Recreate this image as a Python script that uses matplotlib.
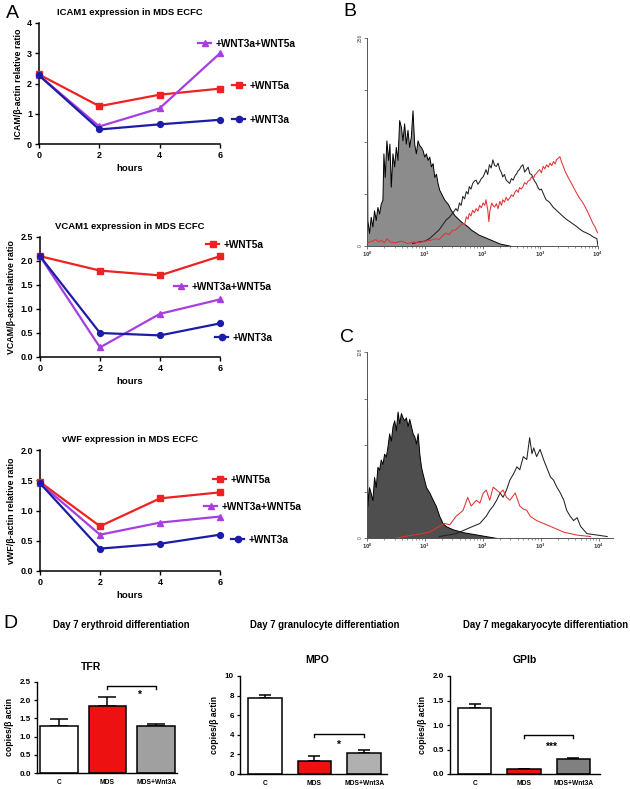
import numpy as np
import matplotlib
matplotlib.use('Agg')
import matplotlib.pyplot as plt
from matplotlib.lines import Line2D
from matplotlib.ticker import FixedLocator, LogLocator, NullFormatter

plt.rcParams['font.family'] = ['Liberation Sans', 'DejaVu Sans']
plt.rcParams['font.weight'] = 'bold'
plt.rcParams['axes.labelweight'] = 'bold'
plt.rcParams['axes.titleweight'] = 'bold'

W, H = 630, 789

# ---------------- Panel A data ----------------
hours = [0, 2, 4, 6]
icam_wnt5a = [2.30, 1.25, 1.63, 1.83]
icam_wnt3a = [2.27, 0.48, 0.65, 0.80]
icam_both = [2.27, 0.58, 1.18, 3.00]
vcam_wnt5a = [2.10, 1.80, 1.70, 2.10]
vcam_wnt3a = [2.10, 0.50, 0.45, 0.70]
vcam_both = [2.10, 0.20, 0.90, 1.20]
vwf_wnt5a = [1.47, 0.74, 1.20, 1.30]
vwf_wnt3a = [1.45, 0.37, 0.45, 0.60]
vwf_both = [1.45, 0.60, 0.80, 0.90]
series_labels = ['+WNT5a', '+WNT3a', '+WNT3a+WNT5a']

# ---------------- Panel B data (log10 fluorescence, counts) ----------------
b_iso_log = [0.0, 0.0, 0.006, 0.035, 0.064, 0.093, 0.122, 0.151, 0.180, 0.209, 0.238, 0.267,
             0.284, 0.307, 0.336, 0.365, 0.388, 0.412, 0.441, 0.470, 0.499, 0.528, 0.557,
             0.586, 0.614, 0.643, 0.672, 0.701, 0.730, 0.759, 0.788, 0.817, 0.846, 0.875,
             0.904, 0.933, 0.962, 0.991, 1.020, 1.049, 1.078, 1.107, 1.136, 1.165, 1.194,
             1.223, 1.252, 1.281, 1.339, 1.397, 1.455, 1.513, 1.571, 1.629, 1.687, 1.745,
             1.803, 1.87, 1.93, 2.0, 2.1, 2.2, 2.3, 2.4, 2.5]
b_iso_cnt = [0, 143, 32, 16, 36, 24, 44, 32, 48, 40, 52, 57,
             114, 85, 130, 106, 126, 73, 114, 98, 122, 106, 155,
             147, 130, 151, 126, 143, 122, 135, 167, 126, 114, 130,
             124, 122, 118, 110, 114, 106, 110, 98, 102, 85, 89,
             77, 69, 65, 57, 52, 44, 38, 34, 30, 27, 24,
             20, 17, 14, 12, 9, 6, 3, 1.5, 0]
b_ctrl_log = [0.79, 0.9, 1.0, 1.08, 1.16, 1.25, 1.31, 1.37, 1.42, 1.48, 1.54, 1.57, 1.60, 1.63,
              1.66, 1.69, 1.72, 1.75, 1.77, 1.80, 1.83, 1.86, 1.89, 1.92, 1.95, 1.98, 2.01,
              2.04, 2.06, 2.09, 2.12, 2.15, 2.18, 2.21, 2.24, 2.27, 2.30, 2.33, 2.35, 2.38,
              2.41, 2.44, 2.47, 2.50, 2.53, 2.56, 2.59, 2.62, 2.64, 2.67, 2.70, 2.73, 2.76,
              2.79, 2.82, 2.85, 2.87, 2.90, 2.93, 2.96, 2.99, 3.02, 3.05, 3.08, 3.10, 3.14,
              3.17, 3.20, 3.22, 3.25, 3.28, 3.31, 3.34, 3.37, 3.40, 3.45, 3.51, 3.57, 3.63,
              3.68, 3.74, 3.80, 3.86, 3.92, 3.98, 4.0]
b_ctrl_cnt = [3, 5, 6, 9, 14, 20, 26, 32, 35, 40, 46, 43, 53, 50,
              61, 58, 67, 64, 73, 70, 77, 80, 81, 76, 79, 83, 85,
              90, 94, 88, 100, 96, 106, 99, 98, 102, 94, 90, 85, 88,
              81, 79, 77, 83, 81, 86, 89, 93, 94, 98, 100, 91, 94,
              97, 89, 88, 85, 80, 77, 72, 69, 70, 65, 60, 57, 55,
              53, 50, 48, 46, 44, 42, 40, 38, 36, 33, 30, 27, 24,
              21, 18, 16, 14, 11, 9, 0]
b_treat_log = [0.0, 0.1, 0.15, 0.2, 0.25, 0.3, 0.35, 0.4, 0.5, 0.6, 0.7, 0.8, 0.9, 1.0, 1.1,
               1.19, 1.25, 1.3, 1.37, 1.42, 1.48, 1.54, 1.60, 1.66, 1.69, 1.72, 1.75, 1.77,
               1.80, 1.83, 1.86, 1.89, 1.92, 1.95, 1.98, 2.01, 2.04, 2.06, 2.09, 2.11, 2.13,
               2.16, 2.18, 2.21, 2.24, 2.27, 2.30, 2.33, 2.35, 2.38, 2.41, 2.44, 2.47, 2.50,
               2.53, 2.56, 2.59, 2.62, 2.64, 2.67, 2.70, 2.73, 2.76, 2.79, 2.82, 2.85, 2.88,
               2.91, 2.93, 2.96, 2.99, 3.02, 3.05, 3.08, 3.11, 3.14, 3.17, 3.20, 3.23, 3.26,
               3.28, 3.31, 3.34, 3.37, 3.40, 3.43, 3.45, 3.48, 3.51, 3.57, 3.63, 3.68, 3.74,
               3.80, 3.86, 3.91, 3.95, 3.98, 4.0]
b_treat_cnt = [4, 6, 8, 5, 7, 4, 9, 5, 4, 6, 3, 5, 4, 6, 7,
               9, 8, 12, 16, 14, 19, 20, 24, 28, 26, 36, 33, 40,
               37, 44, 41, 46, 43, 50, 47, 53, 50, 57, 45, 30, 44,
               53, 50, 48, 52, 46, 55, 50, 57, 54, 60, 56, 59, 63,
               61, 66, 69, 66, 72, 70, 73, 78, 76, 80, 81, 85, 83,
               88, 89, 92, 94, 90, 98, 95, 100, 97, 102, 99, 104, 101,
               106, 108, 110, 103, 98, 92, 89, 85, 81, 73, 65, 59, 53,
               45, 36, 28, 23, 18, 16]

# ---------------- Panel C data ----------------
c_iso_log = [0.0, 0.0, 0.006, 0.035, 0.064, 0.093, 0.122, 0.151, 0.180, 0.209, 0.238, 0.267,
             0.296, 0.325, 0.354, 0.383, 0.412, 0.441, 0.470, 0.499, 0.528, 0.557, 0.586,
             0.614, 0.643, 0.672, 0.701, 0.730, 0.759, 0.788, 0.817, 0.846, 0.875, 0.904,
             0.933, 0.962, 1.02, 1.08, 1.14, 1.19, 1.25, 1.31, 1.37, 1.48, 1.66, 1.95, 2.24]
c_iso_cnt = [0, 100, 22, 35, 31, 26, 42, 35, 49, 47, 54, 51,
             58, 56, 63, 72, 67, 77, 81, 74, 87, 79, 86,
             83, 81, 83, 77, 82, 77, 72, 70, 65, 72, 58,
             49, 44, 35, 31, 26, 22, 15, 10, 8, 6, 4, 2, 0]
c_ctrl_log = [1.25, 1.54, 1.77, 1.95, 2.06, 2.12, 2.18, 2.24, 2.30, 2.35, 2.41, 2.47, 2.53,
              2.59, 2.64, 2.70, 2.76, 2.81, 2.85, 2.88, 2.93, 2.99, 3.05, 3.10, 3.17, 3.22,
              3.28, 3.34, 3.40, 3.45, 3.51, 3.57, 3.63, 3.69, 3.80, 3.98, 4.15]
c_ctrl_cnt = [1, 3, 7, 10, 15, 19, 22, 26, 31, 28, 33, 40, 44,
              49, 47, 56, 54, 69, 58, 62, 56, 61, 54, 49, 42, 40,
              35, 31, 26, 19, 15, 12, 14, 8, 3, 2, 1]
c_treat_log = [0.5, 0.79, 1.08, 1.25, 1.34, 1.43, 1.54, 1.66, 1.74, 1.80, 1.89, 1.95, 2.01,
               2.06, 2.12, 2.18, 2.24, 2.30, 2.35, 2.41, 2.47, 2.56, 2.64, 2.70, 2.76, 2.82,
               2.93, 3.05, 3.17, 3.40, 3.63, 3.86]
c_treat_cnt = [0, 2, 4, 8, 10, 9, 15, 19, 28, 22, 26, 24, 31,
               33, 26, 35, 33, 31, 33, 28, 26, 31, 22, 20, 19, 15,
               12, 10, 8, 4, 2, 1]

# ---------------- Panel D data ----------------
groups = ['C', 'MDS', 'MDS+Wnt3A']
tfr_mean = [1.30, 1.83, 1.28]
tfr_err = [0.17, 0.25, 0.07]
mpo_mean = [7.80, 1.30, 2.15]
mpo_err = [0.25, 0.55, 0.30]
gp_mean = [1.35, 0.10, 0.30]
gp_err = [0.08, 0.01, 0.03]
sig_labels = ['*', '*', '***']


def rect(x0, x1, ytop, ybot):
    return [x0 / W, 1 - ybot / H, (x1 - x0) / W, (ybot - ytop) / H]


def fpos(x, y):
    return (x / W, 1 - y / H)


fig = plt.figure(figsize=(W / 100, H / 100), dpi=100)
fig.patch.set_facecolor('white')

RED = '#ee2222'
BLUE = '#1c1ca8'
PURP = '#a63ee0'


def line_panel(rectv, w5, w3, wb, ylim, yticks, yfmt, title, ylabel, keys):
    ax = fig.add_axes(rectv)
    ax.plot(hours, w5, color=RED, marker='s', ms=4.5, lw=1.6, clip_on=False, zorder=3)
    ax.plot(hours, wb, color=PURP, marker='^', ms=4.5, lw=1.6, clip_on=False, zorder=3)
    ax.plot(hours, w3, color=BLUE, marker='o', ms=4.2, lw=1.6, clip_on=False, zorder=4)
    ax.set_xlim(0, 6)
    ax.set_ylim(*ylim)
    ax.set_xticks(hours)
    ax.set_yticks(yticks)
    ax.set_yticklabels([yfmt.format(v) for v in yticks])
    for s in ['top', 'right']:
        ax.spines[s].set_visible(False)
    for s in ['left', 'bottom']:
        ax.spines[s].set_linewidth(1.1)
    ax.tick_params(direction='out', length=3, width=1.0, labelsize=6.5, pad=2)
    ax.set_title(title, fontsize=6.8, pad=6)
    ax.set_ylabel(ylabel, fontsize=6.4, labelpad=3)
    ax.set_xlabel('hours', fontsize=6.8, labelpad=3)
    styles = {'+WNT5a': (RED, 's'), '+WNT3a': (BLUE, 'o'), '+WNT3a+WNT5a': (PURP, '^')}
    for lab, (xp, yp) in keys.items():
        c, m = styles[lab]
        h = Line2D([], [], color=c, marker=m, lw=1.6, ms=4.5)
        fig.legend(handles=[h], labels=[lab], loc='center left', bbox_to_anchor=fpos(xp, yp),
                   frameon=False, borderpad=0, borderaxespad=0, handlelength=1.3,
                   handletextpad=0.4, prop={'weight': 'bold', 'size': 7.3})
    return ax


line_panel(rect(39, 220, 23, 144), icam_wnt5a, icam_wnt3a, icam_both, (0, 4), [0, 1, 2, 3, 4], '{:d}',
           'ICAM1 expression in MDS ECFC', 'ICAM/β-actin relative ratio',
           {'+WNT3a+WNT5a': (198, 44), '+WNT5a': (232, 86), '+WNT3a': (232, 120)})
line_panel(rect(40, 220, 237, 357), vcam_wnt5a, vcam_wnt3a, vcam_both, (0, 2.5),
           [0, 0.5, 1.0, 1.5, 2.0, 2.5], '{:.1f}',
           'VCAM1 expression in MDS ECFC', 'VCAM/β-actin relative ratio',
           {'+WNT5a': (206, 245), '+WNT3a+WNT5a': (174, 287), '+WNT3a': (215, 338)})
line_panel(rect(40, 220, 450, 571), vwf_wnt5a, vwf_wnt3a, vwf_both, (0, 2.0),
           [0, 0.5, 1.0, 1.5, 2.0], '{:.1f}',
           'vWF expression in MDS ECFC', 'vWF/β-actin relative ratio',
           {'+WNT5a': (213, 480), '+WNT3a+WNT5a': (204, 507), '+WNT3a': (231, 540)})


def hist_panel(rectv, xmax_log, ymax, iso, ctrl, treat, iso_color):
    ax = fig.add_axes(rectv)
    ax.set_xscale('log')
    ilog, icnt = iso
    ax.fill_between(10 ** np.array(ilog), 0, icnt, facecolor=iso_color, edgecolor='black',
                    lw=0.7, zorder=2)
    clog, ccnt = ctrl
    ax.plot(10 ** np.array(clog), ccnt, color='#222222', lw=0.75, zorder=3)
    tlog, tcnt = treat
    ax.plot(10 ** np.array(tlog), tcnt, color='#e03434', lw=0.75, zorder=4)
    ax.set_xlim(1, 10 ** xmax_log)
    ax.set_ylim(0, ymax)
    for s in ['top', 'right']:
        ax.spines[s].set_visible(False)
    for s in ['left', 'bottom']:
        ax.spines[s].set_linewidth(0.7)
        ax.spines[s].set_color('#555555')
    ax.xaxis.set_major_locator(FixedLocator([1, 10, 100, 1000, 10000]))
    ax.xaxis.set_minor_locator(LogLocator(base=10, subs=np.arange(2, 10)))
    ax.xaxis.set_minor_formatter(NullFormatter())
    ax.set_xticklabels(['$10^0$', '$10^1$', '$10^2$', '$10^3$', '$10^4$'])
    yt = np.linspace(0, ymax, 5)
    ax.set_yticks(yt)
    ax.set_yticklabels(['0', '', '', '', str(ymax)], rotation=90, va='center')
    ax.tick_params(axis='both', which='major', length=2, width=0.5, labelsize=3.5, pad=1,
                   colors='#444444')
    ax.tick_params(axis='x', which='minor', length=1.2, width=0.4, colors='#444444')
    for t in ax.get_xticklabels() + ax.get_yticklabels():
        t.set_fontweight('normal')
    return ax


hist_panel(rect(367, 598, 38, 246), 4.0, 256,
           (b_iso_log, b_iso_cnt), (b_ctrl_log, b_ctrl_cnt), (b_treat_log, b_treat_cnt), '#8c8c8c')
hist_panel(rect(367, 613, 352, 538), 4.25, 128,
           (c_iso_log, c_iso_cnt), (c_ctrl_log, c_ctrl_cnt), (c_treat_log, c_treat_cnt), '#4e4e4e')


def bar_panel(rectv, xlim, means, errs, ylim, yticks, yfmt, gray, width, cap, bracket, star_xy, star):
    ax = fig.add_axes(rectv)
    x = np.arange(len(groups))
    colors = ['white', '#ee1111', gray]
    ax.bar(x, means, width=width, color=colors, edgecolor='black', lw=1.1, zorder=2)
    ax.errorbar(x, means, yerr=[np.zeros(len(errs)), errs], fmt='none', ecolor='black',
                elinewidth=1.1, capsize=cap, capthick=1.1, zorder=1)
    ax.set_xlim(*xlim)
    ax.set_ylim(*ylim)
    ax.set_xticks(x)
    ax.set_xticklabels(groups)
    ax.set_yticks(yticks)
    ax.set_yticklabels([yfmt.format(v) for v in yticks])
    for s in ['top', 'right']:
        ax.spines[s].set_visible(False)
    for s in ['left', 'bottom']:
        ax.spines[s].set_linewidth(1.0)
    ax.tick_params(axis='y', direction='out', length=2.5, width=0.9, labelsize=5.8, pad=2)
    ax.tick_params(axis='x', length=0, labelsize=4.8, pad=4)
    ax.set_ylabel('copies/β actin', fontsize=6.2, labelpad=4)
    top, tip = bracket
    ax.plot([1, 1, 2, 2], [tip, top, top, tip], color='black', lw=1.0, clip_on=False)
    ax.text(star_xy[0], star_xy[1], star, ha='center', va='center', fontsize=7.5)
    return ax


bar_panel(rect(37, 177, 682, 773), (-0.45, 2.43), tfr_mean, tfr_err, (0, 2.5),
          [0, 0.5, 1.0, 1.5, 2.0, 2.5], '{:.1f}', '#a0a0a0', 0.78, 6.5, (2.38, 2.31), (1.65, 2.15),
          sig_labels[0])
bar_panel(rect(240, 387, 676, 774), (-0.5, 2.46), mpo_mean, mpo_err, (0, 10),
          [0, 2, 4, 6, 8, 10], '{:d}', '#b0b0b0', 0.68, 4.5, (4.05, 3.75), (1.47, 3.0),
          sig_labels[1])
bar_panel(rect(450, 600, 676, 774), (-0.5, 2.54), gp_mean, gp_err, (0, 2.0),
          [0, 0.5, 1.0, 1.5, 2.0], '{:.1f}', '#808080', 0.68, 4.5, (0.79, 0.74), (1.54, 0.56),
          sig_labels[2])

# Panel D headings
for txt, xp, yp, fs in [('Day 7 erythroid differentiation', 121, 625, 6.9),
                        ('Day 7 granulocyte differentiation', 325, 625, 6.9),
                        ('Day 7 megakaryocyte differentiation', 546, 625, 6.9),
                        ('TFR', 91, 667, 7.5), ('MPO', 317, 660, 7.5), ('GPIb', 525, 660, 7.5)]:
    fig.text(*fpos(xp, yp), txt, ha='center', va='center', fontsize=fs, fontweight='bold')

# Panel letters
for lt, xp, yp in [('A', 12, 13), ('B', 350, 12), ('C', 347, 338), ('D', 10, 623)]:
    fig.text(*fpos(xp, yp), lt, ha='center', va='center', fontsize=14, fontweight='normal')

fig.savefig('out.png', dpi=100, facecolor='white')
